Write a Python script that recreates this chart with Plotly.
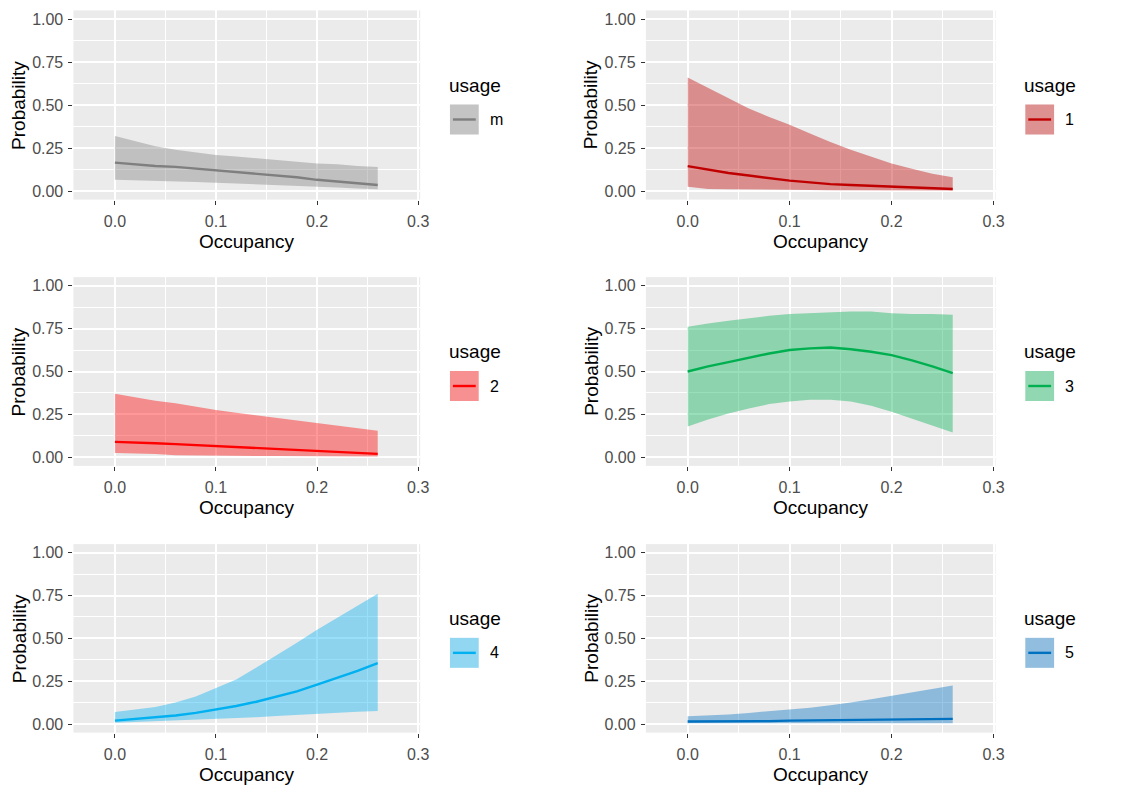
import plotly.graph_objects as go

# ---------------- data ----------------
occupancy = [0.00, 0.02, 0.04, 0.06, 0.08, 0.10, 0.12, 0.14, 0.16, 0.18, 0.20, 0.22, 0.24, 0.26]

usage_labels = ["m", "1", "2", "3", "4", "5"]
line_colors = ["#7F7F7F", "#C00000", "#FF0000", "#00B050", "#00B0F0", "#0070C0"]

prob_m = [0.165, 0.155, 0.145, 0.14, 0.13, 0.12, 0.11, 0.10, 0.09, 0.08, 0.065, 0.055, 0.045, 0.035]
upper_m = [0.32, 0.29, 0.26, 0.24, 0.225, 0.21, 0.20, 0.19, 0.18, 0.17, 0.16, 0.155, 0.145, 0.14]
lower_m = [0.065, 0.063, 0.06, 0.057, 0.053, 0.048, 0.044, 0.040, 0.035, 0.030, 0.025, 0.02, 0.015, 0.01]

prob_1 = [0.145, 0.125, 0.105, 0.09, 0.075, 0.06, 0.05, 0.04, 0.035, 0.03, 0.025, 0.02, 0.015, 0.012]
upper_1 = [0.66, 0.60, 0.54, 0.48, 0.43, 0.385, 0.335, 0.285, 0.24, 0.20, 0.16, 0.13, 0.10, 0.08]
lower_1 = [0.025, 0.012, 0.01, 0.01, 0.008, 0.007, 0.006, 0.005, 0.005, 0.004, 0.004, 0.003, 0.003, 0.003]

prob_2 = [0.09, 0.088, 0.082, 0.077, 0.071, 0.065, 0.06, 0.054, 0.048, 0.043, 0.037, 0.032, 0.026, 0.02]
upper_2 = [0.37, 0.35, 0.33, 0.315, 0.295, 0.275, 0.26, 0.245, 0.23, 0.215, 0.20, 0.185, 0.17, 0.155]
lower_2 = [0.025, 0.022, 0.02, 0.012, 0.01, 0.01, 0.01, 0.008, 0.008, 0.007, 0.005, 0.005, 0.005, 0.005]

prob_3 = [0.50, 0.53, 0.555, 0.58, 0.605, 0.625, 0.635, 0.64, 0.63, 0.615, 0.595, 0.565, 0.53, 0.49]
upper_3 = [0.76, 0.78, 0.795, 0.81, 0.825, 0.835, 0.84, 0.847, 0.85, 0.85, 0.84, 0.835, 0.835, 0.83]
lower_3 = [0.18, 0.22, 0.255, 0.285, 0.31, 0.325, 0.335, 0.335, 0.325, 0.30, 0.265, 0.225, 0.185, 0.145]

prob_4 = [0.02, 0.03, 0.04, 0.05, 0.065, 0.085, 0.105, 0.13, 0.16, 0.19, 0.23, 0.27, 0.31, 0.355]
upper_4 = [0.07, 0.085, 0.10, 0.125, 0.16, 0.21, 0.26, 0.33, 0.40, 0.475, 0.55, 0.62, 0.69, 0.76]
lower_4 = [0.008, 0.012, 0.016, 0.02, 0.025, 0.03, 0.035, 0.04, 0.047, 0.054, 0.062, 0.067, 0.072, 0.076]

prob_5 = [0.015, 0.015, 0.015, 0.016, 0.017, 0.02, 0.021, 0.022, 0.023, 0.025, 0.028, 0.03, 0.03, 0.03]
upper_5 = [0.045, 0.05, 0.055, 0.065, 0.075, 0.085, 0.095, 0.11, 0.125, 0.145, 0.165, 0.185, 0.205, 0.225]
lower_5 = [0.005, 0.005, 0.005, 0.005, 0.005, 0.005, 0.005, 0.005, 0.005, 0.005, 0.005, 0.005, 0.005, 0.005]

probs = [prob_m, prob_1, prob_2, prob_3, prob_4, prob_5]
uppers = [upper_m, upper_1, upper_2, upper_3, upper_4, upper_5]
lowers = [lower_m, lower_1, lower_2, lower_3, lower_4, lower_5]

x_ticks = [0.0, 0.1, 0.2, 0.3]
x_tick_text = ["0.0", "0.1", "0.2", "0.3"]
y_ticks = [0.0, 0.25, 0.5, 0.75, 1.0]
y_tick_text = ["0.00", "0.25", "0.50", "0.75", "1.00"]

x_title = "Occupancy"
y_title = "Probability"
legend_title = "usage"

# ---------------- layout geometry (screen pixels) ----------------
OFF = 8                      # default page body margin
W, H = 1135 - OFF, 792 - OFF
FONT = "Liberation Sans, Arial, sans-serif"
col_px = [(74.0, 423.5), (651.0, 1003.5)]
row_px = [(10.4, 199.6), (277.1, 465.9), (544.1, 732.6)]


def rgba(hex_color, a):
    h = hex_color.lstrip("#")
    r, g, b = int(h[0:2], 16), int(h[2:4], 16), int(h[4:6], 16)
    return f"rgba({r},{g},{b},{a})"


def px_x(px):
    return (px - OFF) / W


def px_y(py):
    return 1 - (py - OFF) / H


fig = go.Figure()
layout = dict(
    width=W, height=H,
    margin=dict(l=0, r=0, t=0, b=0),
    paper_bgcolor="white",
    plot_bgcolor="#EBEBEB",
    showlegend=False,
    font=dict(family=FONT),
)
annotations = []
shapes = []

for i in range(6):
    r, c = divmod(i, 2)
    ax = "" if i == 0 else str(i + 1)
    xref, yref = "x" + ax, "y" + ax
    color = line_colors[i]
    fill = rgba(color, 0.4)

    fig.add_trace(go.Scatter(x=occupancy, y=lowers[i], mode="lines",
                             line=dict(width=0, color=fill), hoverinfo="skip",
                             xaxis=xref, yaxis=yref))
    fig.add_trace(go.Scatter(x=occupancy, y=uppers[i], mode="lines",
                             line=dict(width=0, color=fill), fill="tonexty",
                             fillcolor=fill, xaxis=xref, yaxis=yref))
    fig.add_trace(go.Scatter(x=occupancy, y=probs[i], mode="lines",
                             line=dict(width=2.4, color=color),
                             name=usage_labels[i], xaxis=xref, yaxis=yref))

    x0, x1 = col_px[c]
    y0, y1 = row_px[r]
    common = dict(
        showgrid=True, gridcolor="white", gridwidth=1.6,
        zeroline=False, showline=False,
        ticks="outside", ticklen=4, tickwidth=1.2, tickcolor="#333333",
        tickfont=dict(family=FONT, size=16, color="#4D4D4D"),
    )
    layout["xaxis" + ax] = dict(
        domain=[px_x(x0), px_x(x1)], anchor=yref, range=[-0.041, 0.302],
        tickvals=x_ticks, ticktext=x_tick_text, ticklabelstandoff=3,
        minor=dict(tickvals=[0.05, 0.15, 0.25], showgrid=True,
                   gridcolor="white", gridwidth=0.8, ticks=""),
        **common)
    layout["yaxis" + ax] = dict(
        domain=[px_y(y1), px_y(y0)], anchor=xref, range=[-0.05, 1.05],
        tickvals=y_ticks, ticktext=y_tick_text, ticklabelstandoff=2,
        minor=dict(tickvals=[0.125, 0.375, 0.625, 0.875], showgrid=True,
                   gridcolor="white", gridwidth=0.8, ticks=""),
        **common)

    # axis titles
    annotations.append(dict(text=x_title, xref="paper", yref="paper",
                            x=px_x((x0 + x1) / 2), y=px_y(y1 + 42),
                            xanchor="center", yanchor="middle", showarrow=False,
                            font=dict(family=FONT, size=19, color="black")))
    annotations.append(dict(text=y_title, xref="paper", yref="paper",
                            x=px_x(x0 - 55), y=px_y((y0 + y1) / 2),
                            xanchor="center", yanchor="middle", showarrow=False,
                            textangle=-90,
                            font=dict(family=FONT, size=19, color="black")))

    # legend (one per panel)
    kc = (y0 + y1) / 2 + 14.5
    annotations.append(dict(text=legend_title, xref="paper", yref="paper",
                            x=px_x(x1 + 27), y=px_y(kc - 34),
                            xanchor="left", yanchor="middle", showarrow=False,
                            font=dict(family=FONT, size=19, color="black")))
    annotations.append(dict(text=usage_labels[i], xref="paper", yref="paper",
                            x=px_x(x1 + 68), y=px_y(kc),
                            xanchor="left", yanchor="middle", showarrow=False,
                            font=dict(family=FONT, size=16, color="black")))
    shapes.append(dict(type="rect", xref="paper", yref="paper",
                       x0=px_x(x1 + 30), x1=px_x(x1 + 59),
                       y0=px_y(kc + 15), y1=px_y(kc - 15),
                       fillcolor="#F2F2F2", line=dict(width=0)))
    shapes.append(dict(type="rect", xref="paper", yref="paper",
                       x0=px_x(x1 + 30), x1=px_x(x1 + 59),
                       y0=px_y(kc + 15), y1=px_y(kc - 15),
                       fillcolor=fill, line=dict(width=0)))
    shapes.append(dict(type="line", xref="paper", yref="paper",
                       x0=px_x(x1 + 33), x1=px_x(x1 + 56),
                       y0=px_y(kc), y1=px_y(kc),
                       line=dict(color=color, width=2.4)))

layout["annotations"] = annotations
layout["shapes"] = shapes
fig.update_layout(**layout)
fig.write_html("out.html")
